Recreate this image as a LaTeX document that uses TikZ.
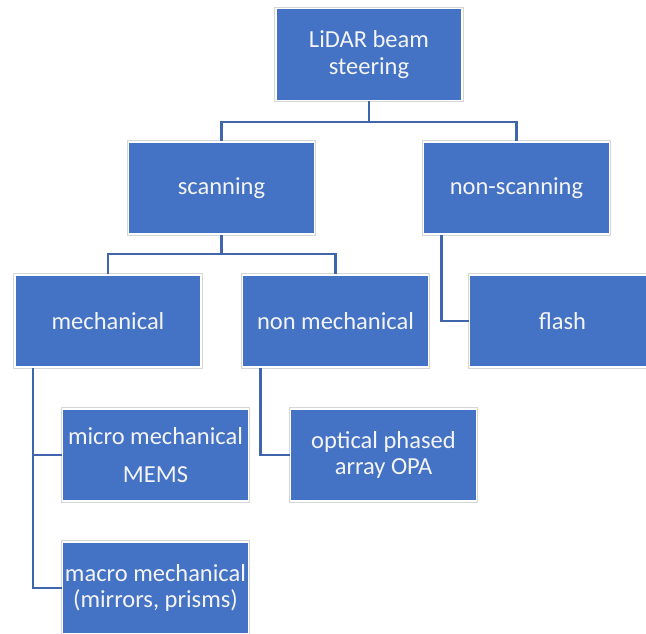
\documentclass[tikz,border=0pt]{standalone}
\usepackage{fontspec}
\setmainfont{Carlito}
\definecolor{boxblue}{HTML}{4472C4}
\definecolor{linkblue}{HTML}{3F66AD}
\definecolor{rimgray}{HTML}{D6D6D6}
\definecolor{labelwhite}{HTML}{F4F4F4}
\begin{document}
\begin{tikzpicture}[x=1pt,y=-1pt,
  box/.style={rectangle, fill=boxblue, draw=white, line width=1.5pt,
    preaction={draw=rimgray, line width=3.5pt},
    minimum width=186pt, minimum height=92pt, inner sep=0pt,
    text=labelwhite, align=center,
    font=\fontsize{24.5}{26.5}\selectfont},
  link/.style={draw=linkblue, line width=2.5pt}]
\useasboundingbox (0,0) rectangle (646,633);
\clip (0,0) rectangle (646,633);

% connectors
\coordinate (rootbus) at (369,122);
\coordinate (scanbus) at (221.5,254);

% boxes
\node[box] (root)    at (369,54.5)   {LiDAR beam\\steering};
\node[box] (scan)    at (221.5,188)  {scanning};
\node[box] (nonscan) at (516.5,188)  {non-scanning};
\node[box] (mech)    at (108,321)    {mechanical};
\node[box] (nonmech) at (335.5,321)  {non mechanical};
\node[box] (flash)   at (562.5,321)  {flash};
\node[box] (micro)   at (155.5,455)  {micro mechanical\\[11pt]MEMS};
\node[box] (macro)   at (155.5,588)  {macro mechanical\\(mirrors, prisms)};
\node[box] (opa)     at (383.5,455)  {optical phased\\array OPA};

% tree lines
\path[link] (root.south) -- (rootbus) -| (scan.north);
\path[link] (rootbus) -| (nonscan.north);
\path[link] (scan.south) -- (scanbus) -| (mech.north);
\path[link] (scanbus) -| (nonmech.north);
\path[link] ([xshift=-75pt]nonscan.south) |- (flash.west);
\path[link] ([xshift=-75pt]mech.south) |- (micro.west);
\path[link] ([xshift=-75pt]mech.south) |- (macro.west);
\path[link] ([xshift=-75pt]nonmech.south) |- (opa.west);
\end{tikzpicture}
\end{document}
